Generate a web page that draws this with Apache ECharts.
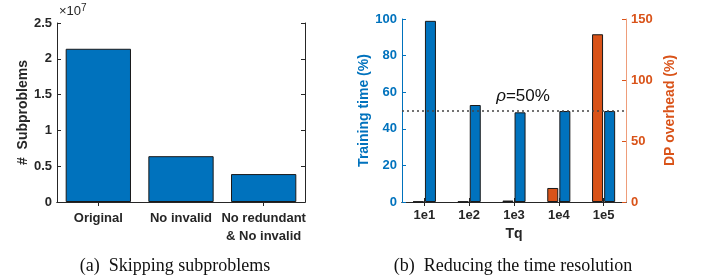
<!DOCTYPE html>
<html>
<head>
<meta charset="utf-8">
<script src="https://cdn.jsdelivr.net/npm/echarts@6/dist/echarts.min.js"></script>
<style>
  html, body { margin: 0; padding: 0; background: #fff; }
  #main { width: 702px; height: 277px; }
</style>
</head>
<body>
<div id="main"></div>
<script>
// (a) subproblem counts
const subCats = ['Original', 'No invalid', 'No redundant\n& No invalid']
const subCounts = [2.14e7, 0.64e7, 0.39e7]
// (b) time resolution
const tqCats = ['1e1', '1e2', '1e3', '1e4', '1e5']
const dpOverhead = [0.4, 0.4, 1.2, 11.5, 137.5]
const trainTime = [99, 53, 49, 49.7, 49.7]
const rho = 50

const BLUE = '#0072BD'
const ORANGE = '#D95319'
const INK = '#262626'
const SANS = 'Liberation Sans'

const chart = echarts.init(document.getElementById('main'))

const tickIn = { show: true, inside: true, length: 4, lineStyle: { color: INK } }
const lineInk = { show: true, lineStyle: { color: INK, width: 1 } }
const lbl = { fontFamily: SANS, fontWeight: 'bold', fontSize: 13, color: INK }

const option = {
  animation: false,
  grid: [
    { left: 57, right: 397, top: 23, bottom: 75 },
    { left: 402, right: 76, top: 19, bottom: 75 }
  ],
  xAxis: [
    {
      type: 'category', gridIndex: 0, data: subCats,
      axisLine: lineInk, axisTick: Object.assign({ alignWithLabel: true }, tickIn),
      axisLabel: Object.assign({ margin: 7, lineHeight: 18, interval: 0 }, lbl)
    },
    {
      type: 'category', gridIndex: 0, position: 'top', data: subCats,
      axisLine: lineInk, axisTick: Object.assign({ alignWithLabel: true }, tickIn),
      axisLabel: { show: false }
    },
    {
      type: 'category', gridIndex: 1, data: tqCats,
      name: 'Tq', nameLocation: 'middle', nameGap: 24,
      nameTextStyle: { fontFamily: SANS, fontWeight: 'bold', fontSize: 14, color: INK },
      axisLine: lineInk, axisTick: Object.assign({ alignWithLabel: true }, tickIn),
      axisLabel: Object.assign({ margin: 7 }, lbl)
    },
    {
      type: 'category', gridIndex: 1, position: 'top', data: tqCats,
      axisLine: lineInk, axisTick: Object.assign({ alignWithLabel: true }, tickIn),
      axisLabel: { show: false }
    }
  ],
  yAxis: [
    {
      type: 'value', gridIndex: 0, min: 0, max: 2.5e7, interval: 0.5e7,
      name: '#  Subproblems', nameLocation: 'middle', nameGap: 21,
      nameTextStyle: { fontFamily: SANS, fontWeight: 'bold', fontSize: 14, color: INK },
      axisLine: lineInk, axisTick: tickIn, splitLine: { show: false },
      axisLabel: Object.assign({ margin: 5, formatter: v => String(v / 1e7) }, lbl)
    },
    {
      type: 'value', gridIndex: 0, position: 'right', min: 0, max: 2.5e7, interval: 0.5e7,
      axisLine: lineInk, axisTick: tickIn, splitLine: { show: false },
      axisLabel: { show: false }
    },
    {
      type: 'value', gridIndex: 1, min: 0, max: 100, interval: 20,
      name: 'Training time (%)', nameLocation: 'middle', nameGap: 29,
      nameTextStyle: { fontFamily: SANS, fontWeight: 'bold', fontSize: 14, color: BLUE },
      axisLine: { show: true, lineStyle: { color: BLUE } },
      axisTick: { show: true, inside: true, length: 4, lineStyle: { color: BLUE } },
      splitLine: { show: false },
      axisLabel: Object.assign({}, lbl, { margin: 5, color: BLUE })
    },
    {
      type: 'value', gridIndex: 1, position: 'right', min: 0, max: 150, interval: 50,
      name: 'DP overhead (%)', nameLocation: 'middle', nameGap: 37,
      nameTextStyle: { fontFamily: SANS, fontWeight: 'bold', fontSize: 14, color: ORANGE },
      axisLine: { show: true, lineStyle: { color: '#EE9D7A' } },
      axisTick: { show: true, inside: true, length: 4, lineStyle: { color: ORANGE } },
      splitLine: { show: false },
      axisLabel: Object.assign({}, lbl, { margin: 5, color: ORANGE })
    }
  ],
  series: [
    {
      type: 'bar', xAxisIndex: 0, yAxisIndex: 0, data: subCounts, barWidth: '79%',
      itemStyle: { color: BLUE, borderColor: '#1a1a1a', borderWidth: 1 }
    },
    {
      type: 'bar', xAxisIndex: 2, yAxisIndex: 3, data: dpOverhead, barWidth: 11, barGap: '10%',
      itemStyle: { color: ORANGE, borderColor: '#1a1a1a', borderWidth: 1 }
    },
    {
      type: 'bar', xAxisIndex: 2, yAxisIndex: 2, data: trainTime, barWidth: 11, barGap: '10%',
      itemStyle: { color: BLUE, borderColor: '#1a1a1a', borderWidth: 1 },
      markLine: {
        silent: true, symbol: 'none',
        lineStyle: { color: '#444', type: [2, 3], width: 1.5 },
        label: {
          position: 'insideMiddleTop', distance: 6, offset: [9, 0],
          formatter: '{i|ρ}=' + rho + '%',
          fontFamily: SANS, fontSize: 17, color: '#111',
          rich: { i: { fontFamily: SANS, fontStyle: 'italic', fontSize: 17, color: '#111' } }
        },
        data: [{ yAxis: rho }]
      }
    }
  ],
  graphic: [
    {
      type: 'text',
      style: {
        x: 59, y: 20, text: '×10{s|7}', textVerticalAlign: 'bottom',
        font: '13px "Liberation Sans"', fill: INK,
        rich: { s: { fontSize: 10, fontFamily: SANS, fill: INK, padding: [0, 0, 7, 0] } }
      }
    },
    {
      type: 'text',
      style: {
        x: 175, y: 266, text: '(a)  Skipping subproblems', textAlign: 'center', textVerticalAlign: 'middle',
        font: '18px "Liberation Serif"', fill: '#111'
      }
    },
    {
      type: 'text',
      style: {
        x: 513, y: 266, text: '(b)  Reducing the time resolution', textAlign: 'center', textVerticalAlign: 'middle',
        font: '18px "Liberation Serif"', fill: '#111'
      }
    }
  ]
}

chart.setOption(option)
</script>
</body>
</html>
